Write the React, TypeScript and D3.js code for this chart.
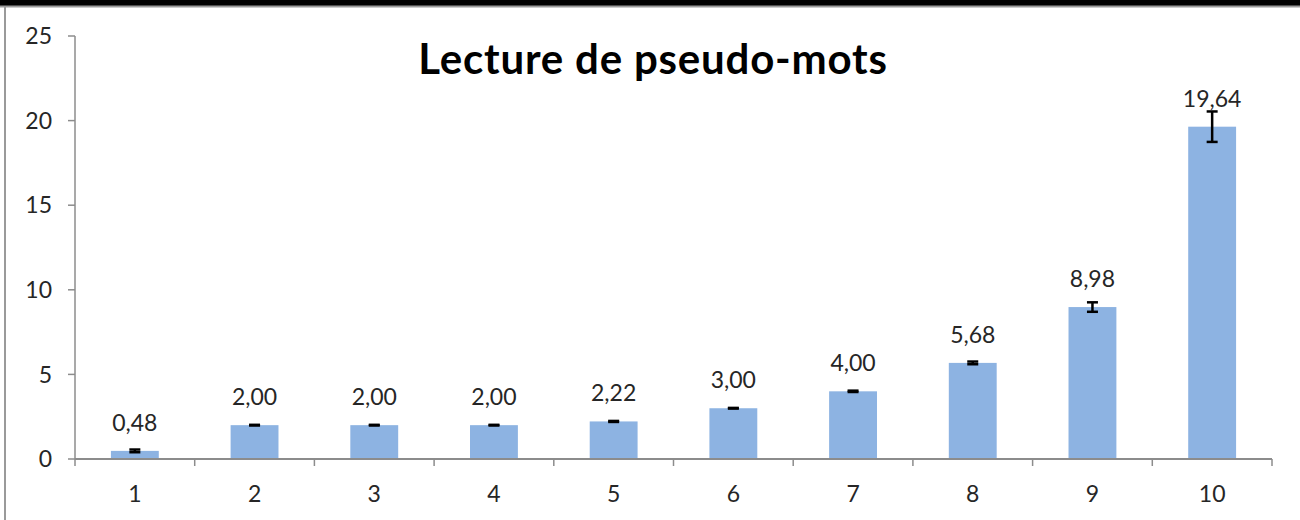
import * as d3 from "d3";
import { useEffect } from "react";

/* Data ---------------------------------------------------------------- */

const CATEGORIES = ["1", "2", "3", "4", "5", "6", "7", "8", "9", "10"];
const VALUES = [0.48, 2.0, 2.0, 2.0, 2.22, 3.0, 4.0, 5.68, 8.98, 19.64];
const ERRORS = [0.08, 0.02, 0.02, 0.02, 0.03, 0.02, 0.04, 0.08, 0.28, 0.9];
const Y_TICKS = [0, 5, 10, 15, 20, 25];
const TITLE = "Lecture de pseudo-mots";

/* Theme --------------------------------------------------------------- */

const W = 1300;
const H = 520;
const BAR = "#8DB3E2";
const AXIS = "#8c8c8c";
const TEXT = "#262626";
const FONT = "Lato, 'Open Sans', sans-serif";
const LABEL_SIZE = 23;

const margin = { top: 36, right: 28, bottom: 61, left: 75 };

export default function App() {
  useEffect(() => {
    document.body.style.margin = "0";
  }, []);

  const x = d3
    .scaleBand<string>()
    .domain(CATEGORIES)
    .range([margin.left, W - margin.right])
    .paddingInner(0.6)
    .paddingOuter(0.3);

  const y = d3
    .scaleLinear()
    .domain([0, 25])
    .range([H - margin.bottom, margin.top]);

  const y0 = y(0);
  const step = x.step();
  const bw = x.bandwidth();
  const fmt = (v: number) => v.toFixed(2).replace(".", ",");

  return (
    <svg width={W} height={H} style={{ display: "block", background: "#fff" }}>
      {/* frame pieces */}
      <rect x={0} y={0} width={W} height={6} fill="#000" />
      <line x1={0} x2={W} y1={6.5} y2={6.5} stroke="#9a9a9a" strokeWidth={2} />
      <line x1={5} x2={5} y1={6} y2={H} stroke="#9a9a9a" strokeWidth={2} />

      {/* title */}
      <text
        x={653}
        y={74}
        textAnchor="middle"
        fontFamily={FONT}
        fontWeight={700}
        fontSize={42}
        letterSpacing={0.8}
        fill="#000"
      >
        {TITLE}
      </text>

      {/* y axis */}
      <line x1={margin.left} x2={margin.left} y1={y(25)} y2={y0} stroke={AXIS} strokeWidth={1.5} />
      {Y_TICKS.map((t) => (
        <g key={t}>
          <line x1={margin.left - 7} x2={margin.left} y1={y(t)} y2={y(t)} stroke={AXIS} strokeWidth={1.5} />
          <text
            x={margin.left - 23}
            y={y(t)}
            dy="0.36em"
            textAnchor="end"
            fontFamily={FONT}
            fontSize={LABEL_SIZE}
            fill={TEXT}
          >
            {t}
          </text>
        </g>
      ))}

      {/* bars */}
      {CATEGORIES.map((c, i) => (
        <rect key={c} x={x(c)} y={y(VALUES[i])} width={bw} height={y0 - y(VALUES[i])} fill={BAR} />
      ))}

      {/* x axis */}
      <line x1={margin.left} x2={W - margin.right} y1={y0} y2={y0} stroke={AXIS} strokeWidth={2} />
      {d3.range(CATEGORIES.length + 1).map((k) => {
        const px = margin.left + k * step;
        return <line key={k} x1={px} x2={px} y1={y0} y2={y0 + 7} stroke={AXIS} strokeWidth={1.5} />;
      })}
      {CATEGORIES.map((c) => (
        <text
          key={c}
          x={(x(c) ?? 0) + bw / 2}
          y={502}
          textAnchor="middle"
          fontFamily={FONT}
          fontSize={LABEL_SIZE}
          fill={TEXT}
        >
          {c}
        </text>
      ))}

      {/* error bars */}
      {CATEGORIES.map((c, i) => {
        const cx = (x(c) ?? 0) + bw / 2;
        const hi = y(VALUES[i] + ERRORS[i]);
        const lo = y(VALUES[i] - ERRORS[i]);
        return (
          <g key={c} stroke="#000" strokeWidth={2.5}>
            <line x1={cx} x2={cx} y1={hi} y2={lo} />
            <line x1={cx - 5.5} x2={cx + 5.5} y1={hi} y2={hi} />
            <line x1={cx - 5.5} x2={cx + 5.5} y1={lo} y2={lo} />
          </g>
        );
      })}

      {/* value labels */}
      {CATEGORIES.map((c, i) => (
        <text
          key={c}
          x={(x(c) ?? 0) + bw / 2}
          y={y(VALUES[i]) - 20}
          textAnchor="middle"
          fontFamily={FONT}
          fontSize={LABEL_SIZE}
          fill={TEXT}
        >
          {fmt(VALUES[i])}
        </text>
      ))}
    </svg>
  );
}
